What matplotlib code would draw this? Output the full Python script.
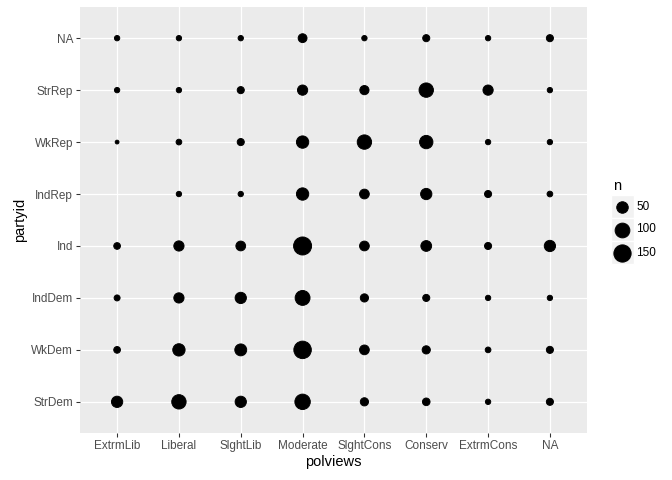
import numpy as np
import matplotlib
matplotlib.use("Agg")
import matplotlib.pyplot as plt
from matplotlib.patches import Rectangle

plt.rcParams['font.family'] = ['Liberation Sans', 'DejaVu Sans']

polviews = ["ExtrmLib", "Liberal", "SlghtLib", "Moderate", "SlghtCons", "Conserv", "ExtrmCons", "NA"]
partyid = ["StrDem", "WkDem", "IndDem", "Ind", "IndRep", "WkRep", "StrRep", "NA"]

# counts: rows follow partyid order, columns follow polviews order (None = no observation)
n_StrDem = [47, 93, 47, 112, 17, 13, 3, 10]
n_WkDem  = [8, 61, 55, 155, 30, 17, 4, 10]
n_IndDem = [5, 35, 47, 102, 17, 10, 3, 3]
n_Ind    = [8, 35, 30, 167, 30, 41, 10, 47]
n_IndRep = [None, 3, 3, 61, 30, 47, 10, 4]
n_WkRep  = [1, 4, 10, 61, 93, 76, 3, 3]
n_StrRep = [3, 3, 10, 35, 25, 93, 35, 3]
n_NA     = [3, 3, 3, 22, 3, 10, 3, 10]
counts = [n_StrDem, n_WkDem, n_IndDem, n_Ind, n_IndRep, n_WkRep, n_StrRep, n_NA]

legend_breaks = [50, 100, 150]

W, H = 672, 480
fig = plt.figure(figsize=(W / 96, H / 96), dpi=96)

pl, pr, pt_, pb = 80, 587, 7, 433
ax = fig.add_axes([pl / W, 1 - pb / H, (pr - pl) / W, (pb - pt_) / H])
ax.set_facecolor('#EBEBEB')
for s in ax.spines.values():
    s.set_visible(False)

xs, ys, ns = [], [], []
for j, row in enumerate(counts):
    for i, v in enumerate(row):
        if v is not None:
            xs.append(i); ys.append(j); ns.append(v)
ns = np.array(ns, dtype=float)
nmin, nmax = ns.min(), ns.max()

def size_mm(n):
    return 1 + 5 * np.sqrt((np.asarray(n, float) - nmin) / (nmax - nmin))

def marker_area(n):
    fontsize = size_mm(n) * 2.845276 + 0.5 * 3.7795 / 2
    d_pt = 0.75 * fontsize
    return d_pt ** 2

EDGE_LW = 0.7

ax.set_xlim(-0.6, 7.6)
ax.set_ylim(-0.6, 7.6)
ax.set_xticks(range(8))
ax.set_yticks(range(8))
ax.set_xticklabels(polviews)
ax.set_yticklabels(partyid)
ax.grid(True, color='white', linewidth=0.9)
ax.set_axisbelow(True)
ax.tick_params(axis='both', colors='#333333', length=2.75, width=0.8, labelsize=8.8, labelcolor='#4D4D4D', pad=2.5)
ax.scatter(xs, ys, s=marker_area(ns), c='black', edgecolors='black', linewidths=EDGE_LW, zorder=3)
ax.set_xlabel('polviews', fontsize=11, labelpad=2.5)
ax.set_ylabel('partyid', fontsize=11, labelpad=3)

# legend, drawn in pixel coordinates
lax = fig.add_axes([0, 0, 1, 1])
lax.set_xlim(0, W)
lax.set_ylim(H, 0)
lax.axis('off')
lax.text(613, 186, 'n', fontsize=11, va='center', ha='left')
key_w = 23
for k, b in enumerate(legend_breaks):
    y0 = 195 + k * key_w
    lax.add_patch(Rectangle((610.5, y0), key_w, key_w, facecolor='#F2F2F2', edgecolor='white', linewidth=1))
    lax.scatter([610.5 + key_w / 2], [y0 + key_w / 2], s=marker_area(b), c='black', edgecolors='black', linewidths=EDGE_LW)
    lax.text(636, y0 + key_w / 2, str(b), fontsize=8.8, va='center', ha='left', color='black')

fig.savefig('out.png', dpi=96)
